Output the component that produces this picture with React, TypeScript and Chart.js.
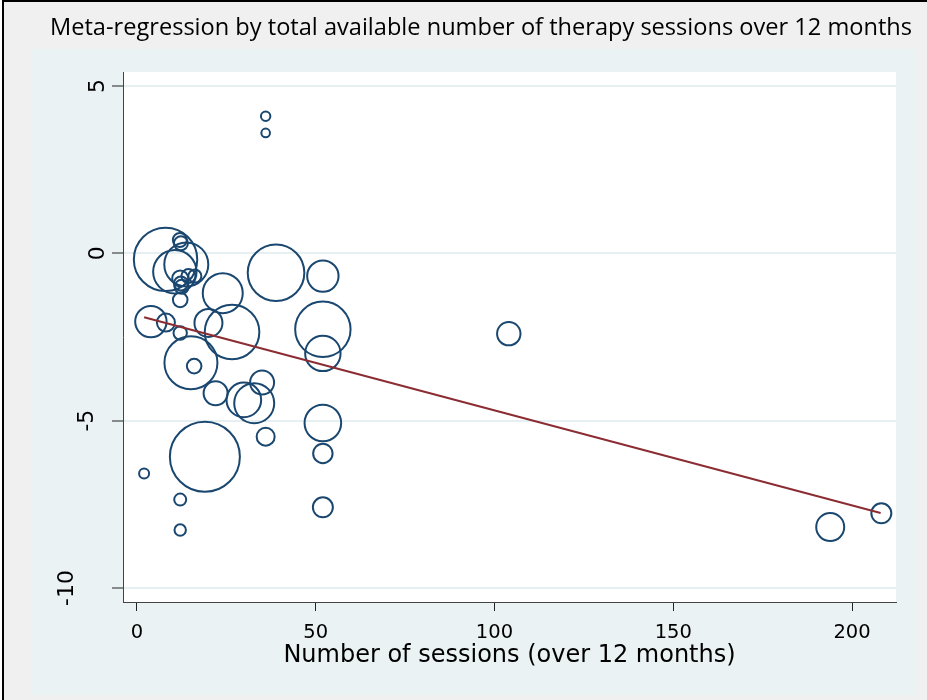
import React, { useEffect, useRef } from "react";
import { Chart, registerables } from "chart.js";

Chart.register(...registerables);

const TITLE = "Meta-regression by total available number of therapy sessions over 12 months";
const X_TITLE = "Number of sessions (over 12 months)";
const X_TICKS = [0, 50, 100, 150, 200];
const Y_TICKS = [-10, -5, 0, 5];
const Y_TICK_LABELS = ["-10", "-5", "0", "5"];

// number of sessions over 12 months (x)
const SESSIONS = [
  36, 36, 8.0, 12.0, 12.3, 13.8, 10.6, 12.1, 12.3, 14.4,
  16.2, 12.5, 12.1, 3.9, 8.1, 12.1, 20.0, 26.6, 24.0, 15.1,
  16.0, 22.0, 29.9, 32.8, 35.0, 36.0, 19.0, 2.0, 12.1, 12.1,
  52.0, 52.0, 52.0, 52.0, 52.0, 38.9, 52.0, 104.0, 193.9, 208.2,
];
// effect size (y)
const EFFECT = [
  4.10, 3.60, -0.18, 0.40, 0.30, -0.33, -0.55, -0.75, -0.90, -0.68,
  -0.68, -1.00, -1.39, -2.04, -2.07, -2.38, -2.08, -2.35, -1.19, -3.27,
  -3.37, -4.18, -4.38, -4.48, -3.86, -5.48, -6.08, -6.58, -7.36, -8.27,
  -2.27, -2.99, -5.07, -5.98, -7.59, -0.58, -0.68, -2.40, -8.18, -7.77,
];
// study weight, shown as bubble radius
const WEIGHT = [
  4.7, 4.3, 31.7, 7, 7, 22, 21.7, 8, 7, 7,
  6.5, 7, 7.3, 15.7, 9, 6.7, 14, 27.3, 20, 26.5,
  7.3, 12, 17.3, 20, 12, 9, 35, 5, 6, 5.7,
  27.7, 17.7, 18.3, 9.7, 10, 28.3, 15.7, 11.7, 14, 10,
];
// fitted meta-regression line end points
const FIT_X = [2, 208];
const FIT_Y = [-1.91, -7.76];

const Y_LABEL_FONT = "22px 'DejaVu Sans'";

const bgPlugin = {
  id: "stataBackground",
  beforeDraw(chart: any) {
    const { ctx, chartArea } = chart;
    ctx.save();
    ctx.fillStyle = "#ffffff";
    ctx.fillRect(0, 0, 927, 700);
    ctx.fillStyle = "#f0f0f0";
    ctx.fillRect(4, 2, 923, 698);
    ctx.fillStyle = "#000000";
    ctx.fillRect(2, 0, 925, 2);
    ctx.fillRect(2, 0, 2, 700);
    ctx.fillStyle = "#eaf2f3";
    ctx.fillRect(31, 49, 887, 646);
    ctx.fillStyle = "#ffffff";
    ctx.fillRect(
      chartArea.left,
      chartArea.top,
      chartArea.right - chartArea.left,
      chartArea.bottom - chartArea.top
    );
    ctx.restore();
  },
  afterDraw(chart: any) {
    // vertical y tick labels, placed the way Stata does (by unrotated width)
    const { ctx } = chart;
    const yScale = chart.scales.y;
    ctx.save();
    ctx.font = Y_LABEL_FONT;
    ctx.fillStyle = "#000000";
    ctx.textAlign = "center";
    ctx.textBaseline = "middle";
    Y_TICKS.forEach((v, i) => {
      const label = Y_TICK_LABELS[i];
      const w = ctx.measureText(label).width;
      const cx = yScale.right - 4 - 1.45 * w;
      const cy = yScale.getPixelForValue(v);
      ctx.save();
      ctx.translate(cx, cy);
      ctx.rotate(-Math.PI / 2);
      ctx.fillText(label, 0, 0);
      ctx.restore();
    });
    ctx.restore();
  },
};

export default function App() {
  const ref = useRef<HTMLCanvasElement | null>(null);

  useEffect(() => {
    if (!ref.current) return;
    const bubbles = SESSIONS.map((x, i) => ({ x, y: EFFECT[i], r: WEIGHT[i] }));
    const fit = FIT_X.map((x, i) => ({ x, y: FIT_Y[i] }));
    const chart = new Chart(ref.current, {
      type: "bubble",
      data: {
        datasets: [
          {
            type: "line" as any,
            label: "Fitted",
            data: fit,
            borderColor: "#8b2c32",
            borderWidth: 2,
            pointRadius: 0,
            fill: false,
            order: 0,
          } as any,
          {
            type: "bubble",
            label: "Studies",
            data: bubbles,
            backgroundColor: "rgba(0,0,0,0)",
            borderColor: "#1a476f",
            borderWidth: 2,
            order: 1,
          },
        ],
      },
      plugins: [bgPlugin],
      options: {
        animation: false,
        responsive: false,
        events: [],
        layout: { autoPadding: false, padding: { left: 50, right: 15, top: 0, bottom: 0 } },
        plugins: {
          legend: { display: false },
          tooltip: { enabled: false },
          title: {
            display: true,
            text: TITLE,
            color: "#000000",
            font: { family: "'Open Sans'", size: 23.6, weight: "normal", lineHeight: 1.2 },
            padding: { top: 14, bottom: 29.7 },
          },
        },
        scales: {
          x: {
            type: "linear",
            min: -3.9,
            max: 212.3,
            afterBuildTicks: (axis: any) => {
              axis.ticks = X_TICKS.map((v) => ({ value: v }));
            },
            afterFit: (scale: any) => {
              scale.height = 98;
            },
            grid: {
              display: true,
              drawOnChartArea: false,
              drawTicks: true,
              tickLength: 9,
              tickColor: "#222222",
              tickWidth: 1,
            },
            border: { display: true, color: "#444444", width: 1 },
            ticks: {
              color: "#000000",
              font: { family: "'DejaVu Sans'", size: 19.5 },
              padding: 10,
              maxRotation: 0,
              minRotation: 0,
              autoSkip: false,
            },
            title: {
              display: true,
              text: X_TITLE,
              color: "#000000",
              font: { family: "'DejaVu Sans'", size: 24 },
              padding: { top: 0, bottom: 30 },
            },
          },
          y: {
            type: "linear",
            min: -10.42,
            max: 5.42,
            afterBuildTicks: (axis: any) => {
              axis.ticks = Y_TICKS.map((v) => ({ value: v }));
            },
            afterFit: (scale: any) => {
              scale.width = 73;
            },
            grid: {
              display: true,
              drawOnChartArea: true,
              color: "#e6eff2",
              lineWidth: 2,
              drawTicks: true,
              tickLength: 11,
              tickColor: "#222222",
              tickWidth: 1,
            },
            border: { display: true, color: "#444444", width: 1 },
            ticks: {
              display: false,
            },
          },
          yRightMargin: {
            type: "linear",
            position: "right",
            min: -10.42,
            max: 5.42,
            afterFit: (scale: any) => {
              scale.width = 16;
            },
            grid: { display: false, drawTicks: false },
            border: { display: false },
            ticks: { display: false },
          },
        },
      },
    });
    return () => chart.destroy();
  }, []);

  return (
    <div style={{ position: "fixed", left: 0, top: 0, width: 927, height: 700 }}>
      <canvas ref={ref} width={927} height={700} />
    </div>
  );
}
